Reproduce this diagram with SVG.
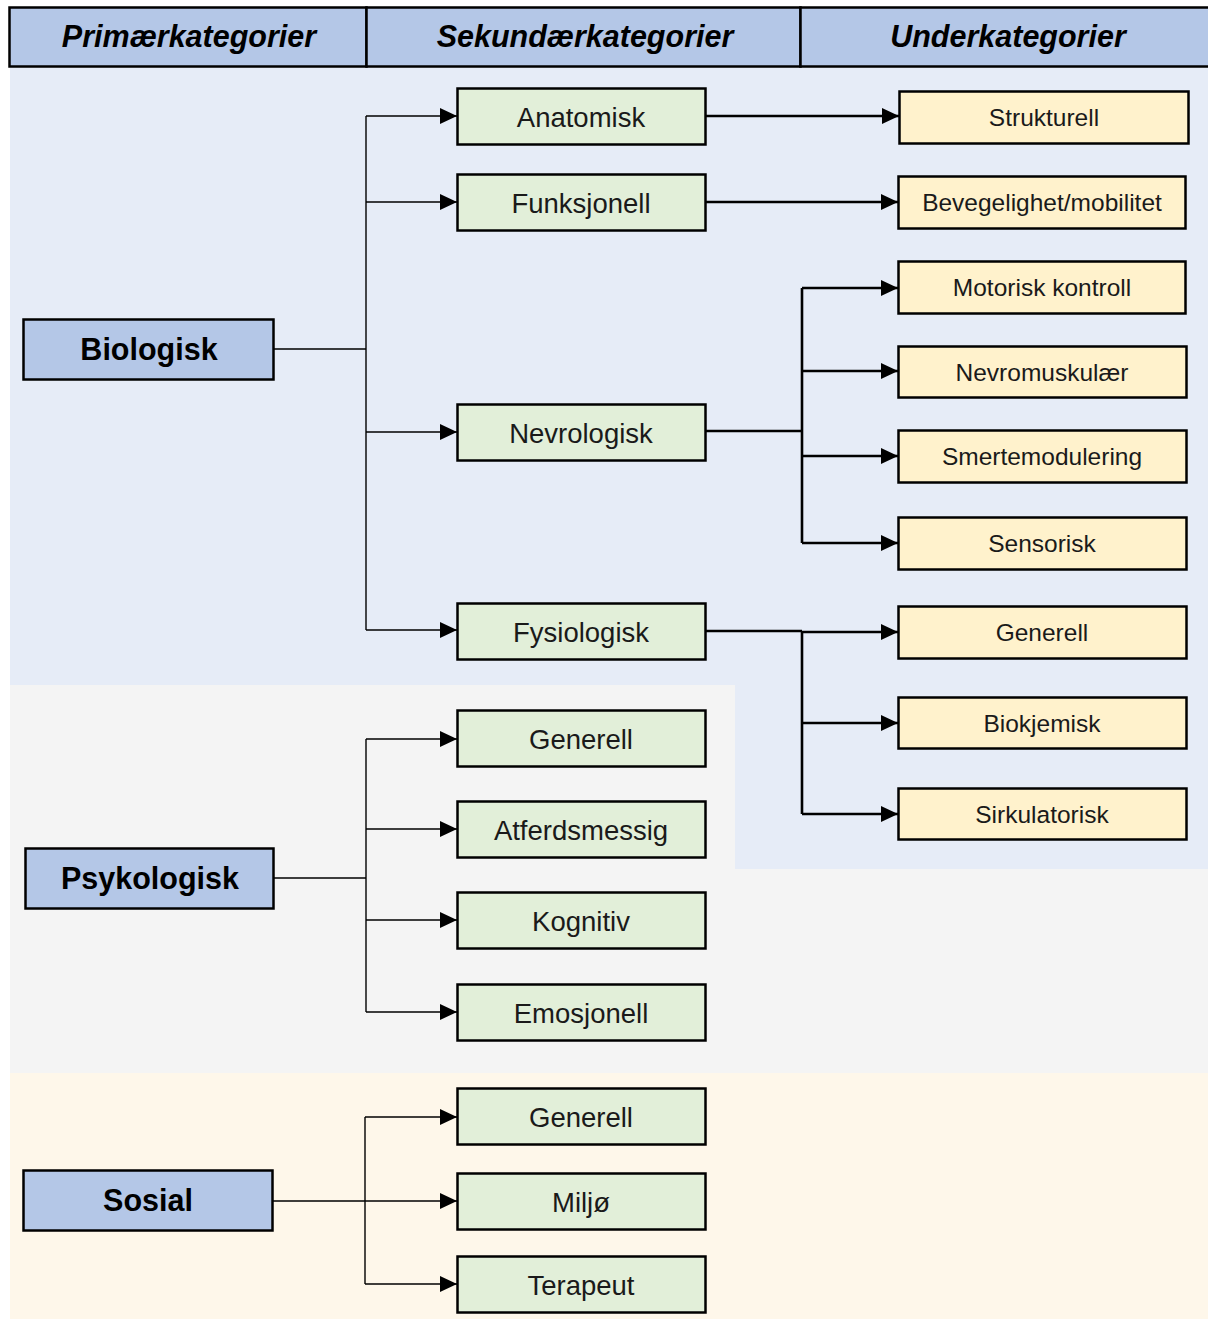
<svg xmlns="http://www.w3.org/2000/svg" width="1208" height="1319" viewBox="0 0 1208 1319">
<defs>
<marker id="ah" markerUnits="userSpaceOnUse" markerWidth="18" markerHeight="16" refX="17" refY="8" orient="auto">
<path d="M0,0 L17,8 L0,16 Z" fill="#000"/>
</marker>
<style>
.hdr{fill:#b4c7e7;stroke:#000;stroke-width:2.5}
.ht{font-family:"Liberation Sans",Arial,sans-serif;font-weight:bold;font-style:italic;font-size:30.5px;text-anchor:middle;fill:#000}
.prim rect{fill:#b4c7e7;stroke:#000;stroke-width:2.5}
.prim text{font-family:"Liberation Sans",Arial,sans-serif;font-weight:bold;font-size:30.5px;text-anchor:middle;fill:#000}
.sec rect{fill:#e2efd9;stroke:#000;stroke-width:2.5}
.sec text{font-family:"Liberation Sans",Arial,sans-serif;font-size:27.5px;text-anchor:middle;fill:#1a1a1a}
.sub rect{fill:#fff2cc;stroke:#000;stroke-width:2.5}
.sub text{font-family:"Liberation Sans",Arial,sans-serif;font-size:24.5px;text-anchor:middle;fill:#1a1a1a}
.thin{fill:none;stroke:#000;stroke-width:1.4}
.thick{fill:none;stroke:#000;stroke-width:2.6}
</style>
</defs>
<rect width="1208" height="1319" fill="#fff"/>
<!-- backgrounds -->
<rect x="10" y="67" width="1198" height="618" fill="#e6ecf7"/>
<rect x="10" y="685" width="1198" height="388" fill="#f4f4f4"/>
<rect x="735" y="685" width="473" height="184" fill="#e6ecf7"/>
<rect x="10" y="1073" width="1198" height="246" fill="#fef7ea"/>
<!-- header -->
<g id="header">
<rect class="hdr" x="9.5" y="7.5" width="357" height="59"/>
<rect class="hdr" x="366.5" y="7.5" width="434" height="59"/>
<rect class="hdr" x="800.5" y="7.5" width="410" height="59"/>
<text class="ht" x="189" y="46.5">Primærkategorier</text>
<text class="ht" x="585" y="46.5">Sekundærkategorier</text>
<text class="ht" x="1008" y="46.5">Underkategorier</text>
</g>
<!-- connectors -->
<g id="connectors">
<path class="thin" d="M273,349 H366 M366,116 V630"/>
<path class="thin" d="M366,116 H457" marker-end="url(#ah)"/>
<path class="thin" d="M366,202 H457" marker-end="url(#ah)"/>
<path class="thin" d="M366,432 H457" marker-end="url(#ah)"/>
<path class="thin" d="M366,630 H457" marker-end="url(#ah)"/>
<path class="thin" d="M273,878 H366 M366,739 V1012"/>
<path class="thin" d="M366,739 H457" marker-end="url(#ah)"/>
<path class="thin" d="M366,829 H457" marker-end="url(#ah)"/>
<path class="thin" d="M366,920 H457" marker-end="url(#ah)"/>
<path class="thin" d="M366,1012 H457" marker-end="url(#ah)"/>
<path class="thin" d="M272,1201 H365 M365,1117 V1284"/>
<path class="thin" d="M365,1117 H457" marker-end="url(#ah)"/>
<path class="thin" d="M365,1201 H457" marker-end="url(#ah)"/>
<path class="thin" d="M365,1284 H457" marker-end="url(#ah)"/>
<path class="thick" d="M705,116 H899" marker-end="url(#ah)"/>
<path class="thick" d="M705,202 H898" marker-end="url(#ah)"/>
<path class="thick" d="M705,431 H802 M802,288 V543"/>
<path class="thick" d="M802,288 H898" marker-end="url(#ah)"/>
<path class="thick" d="M802,371 H898" marker-end="url(#ah)"/>
<path class="thick" d="M802,456 H898" marker-end="url(#ah)"/>
<path class="thick" d="M802,543 H898" marker-end="url(#ah)"/>
<path class="thick" d="M705,631 H802 M802,631 V814"/>
<path class="thick" d="M802,632 H898" marker-end="url(#ah)"/>
<path class="thick" d="M802,723 H898" marker-end="url(#ah)"/>
<path class="thick" d="M802,814 H898" marker-end="url(#ah)"/>
</g>
<!-- primary -->
<g id="n-biologisk" class="prim"><rect x="23.5" y="319.5" width="250" height="60"/><text x="149" y="360">Biologisk</text></g>
<g id="n-psykologisk" class="prim"><rect x="25.5" y="848.5" width="248" height="60"/><text x="150" y="889">Psykologisk</text></g>
<g id="n-sosial" class="prim"><rect x="23.5" y="1170.5" width="249" height="60"/><text x="148" y="1211">Sosial</text></g>
<!-- secondary -->
<g id="n-anatomisk" class="sec"><rect x="457.5" y="88.5" width="248" height="56"/><text x="581" y="126.5">Anatomisk</text></g>
<g id="n-funksjonell" class="sec"><rect x="457.5" y="174.5" width="248" height="56"/><text x="581" y="212.5">Funksjonell</text></g>
<g id="n-nevrologisk" class="sec"><rect x="457.5" y="404.5" width="248" height="56"/><text x="581" y="442.5">Nevrologisk</text></g>
<g id="n-fysiologisk" class="sec"><rect x="457.5" y="603.5" width="248" height="56"/><text x="581" y="641.5">Fysiologisk</text></g>
<g id="n-psy-generell" class="sec"><rect x="457.5" y="710.5" width="248" height="56"/><text x="581" y="748.5">Generell</text></g>
<g id="n-atferdsmessig" class="sec"><rect x="457.5" y="801.5" width="248" height="56"/><text x="581" y="839.5">Atferdsmessig</text></g>
<g id="n-kognitiv" class="sec"><rect x="457.5" y="892.5" width="248" height="56"/><text x="581" y="930.5">Kognitiv</text></g>
<g id="n-emosjonell" class="sec"><rect x="457.5" y="984.5" width="248" height="56"/><text x="581" y="1022.5">Emosjonell</text></g>
<g id="n-sos-generell" class="sec"><rect x="457.5" y="1088.5" width="248" height="56"/><text x="581" y="1126.5">Generell</text></g>
<g id="n-miljo" class="sec"><rect x="457.5" y="1173.5" width="248" height="56"/><text x="581" y="1211.5">Miljø</text></g>
<g id="n-terapeut" class="sec"><rect x="457.5" y="1256.5" width="248" height="56"/><text x="581" y="1294.5">Terapeut</text></g>
<!-- sub -->
<g id="n-strukturell" class="sub"><rect x="899.5" y="91.5" width="289" height="52"/><text x="1044" y="126">Strukturell</text></g>
<g id="n-bevegelighet" class="sub"><rect x="898.5" y="176.5" width="287" height="52"/><text x="1042" y="211">Bevegelighet/mobilitet</text></g>
<g id="n-motorisk" class="sub"><rect x="898.5" y="261.5" width="287" height="52"/><text x="1042" y="296">Motorisk kontroll</text></g>
<g id="n-nevromuskular" class="sub"><rect x="898.5" y="346.5" width="288" height="51"/><text x="1042" y="380.5">Nevromuskulær</text></g>
<g id="n-smerte" class="sub"><rect x="898.5" y="430.5" width="288" height="52"/><text x="1042" y="465">Smertemodulering</text></g>
<g id="n-sensorisk" class="sub"><rect x="898.5" y="517.5" width="288" height="52"/><text x="1042" y="552">Sensorisk</text></g>
<g id="n-fys-generell" class="sub"><rect x="898.5" y="606.5" width="288" height="52"/><text x="1042" y="641">Generell</text></g>
<g id="n-biokjemisk" class="sub"><rect x="898.5" y="697.5" width="288" height="51"/><text x="1042" y="731.5">Biokjemisk</text></g>
<g id="n-sirkulatorisk" class="sub"><rect x="898.5" y="788.5" width="288" height="51"/><text x="1042" y="822.5">Sirkulatorisk</text></g>
</svg>
